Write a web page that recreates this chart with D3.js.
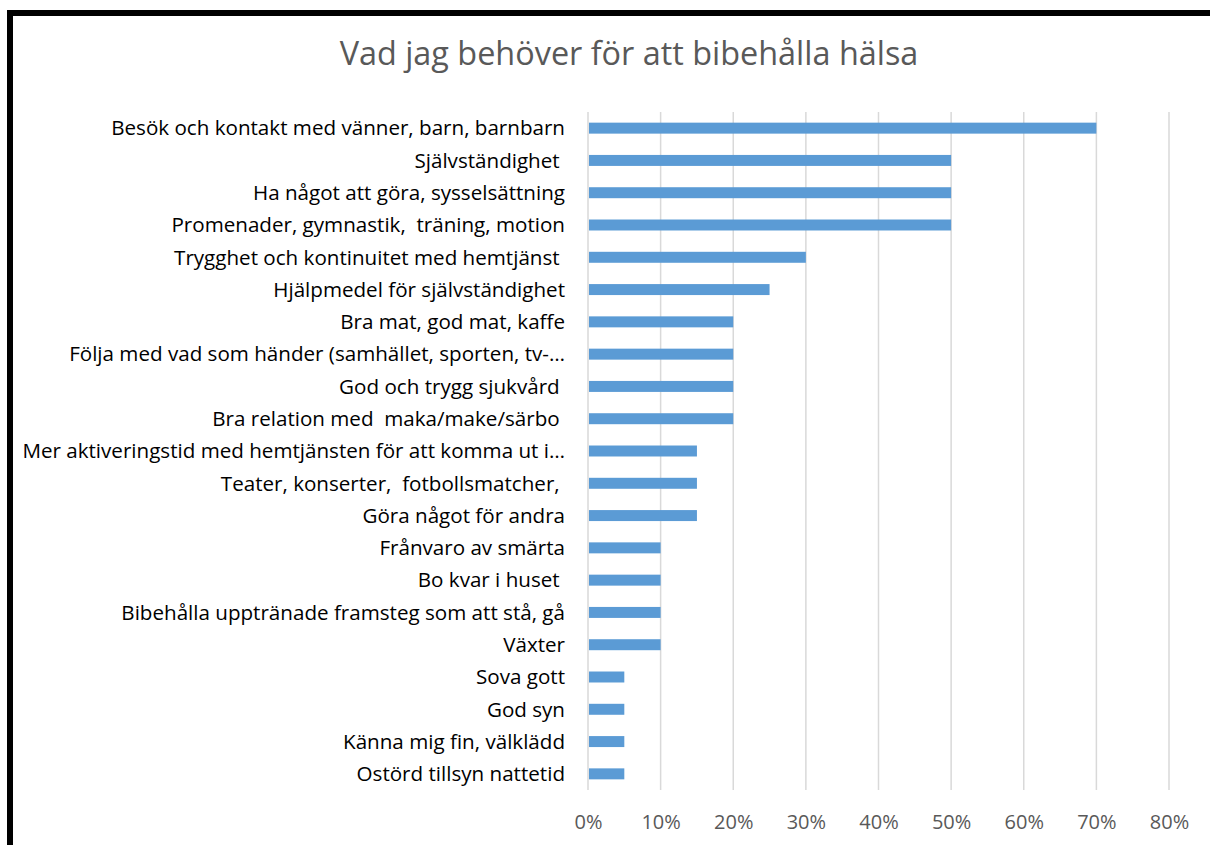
<!DOCTYPE html>
<html><head><meta charset="utf-8">
<script src="https://cdn.jsdelivr.net/npm/d3@7"></script>
<style>
html,body{margin:0;padding:0;background:#fff;}
svg text{white-space:pre;}
</style></head>
<body>
<svg id="c" width="1210" height="845"></svg>
<script>
const title = "Vad jag behöver för att bibehålla hälsa";
const categories = [
  "Besök och kontakt med vänner, barn, barnbarn",
  "Självständighet ",
  "Ha något att göra, sysselsättning",
  "Promenader, gymnastik,  träning, motion",
  "Trygghet och kontinuitet med hemtjänst ",
  "Hjälpmedel för självständighet",
  "Bra mat, god mat, kaffe",
  "Följa med vad som händer (samhället, sporten, tv-…",
  "God och trygg sjukvård ",
  "Bra relation med  maka/make/särbo ",
  "Mer aktiveringstid med hemtjänsten för att komma ut i…",
  "Teater, konserter,  fotbollsmatcher, ",
  "Göra något för andra",
  "Frånvaro av smärta",
  "Bo kvar i huset ",
  "Bibehålla uppträn" + "ade framsteg som att stå, gå",
  "Växter",
  "Sova gott",
  "God syn",
  "Känna mig fin, välklädd",
  "Ostörd tillsyn nattetid"
];
const values = [0.70,0.50,0.50,0.50,0.30,0.25,0.20,0.20,0.20,0.20,0.15,0.15,0.15,0.10,0.10,0.10,0.10,0.05,0.05,0.05,0.05];
const tickValues = [0,0.1,0.2,0.3,0.4,0.5,0.6,0.7,0.8];

const svg = d3.select("#c");
const font = "Open Sans, Noto Sans, sans-serif";

// outer border
svg.append("rect").attr("x",10).attr("y",13).attr("width",1240).attr("height",900)
  .attr("fill","none").attr("stroke","#000").attr("stroke-width",6);

svg.append("text").attr("x",629).attr("y",65).attr("text-anchor","middle")
  .attr("font-family",font).attr("font-size",32.4).attr("fill","#595959").text(title);

const x = d3.scaleLinear().domain([0,0.8]).range([588,1169]);
const y = d3.scaleBand().domain(categories).range([112,790]).paddingInner(0.66).paddingOuter(0.33);

// gridlines
svg.append("g").selectAll("line").data(tickValues).join("line")
  .attr("x1",d=>x(d)).attr("x2",d=>x(d)).attr("y1",112).attr("y2",790)
  .attr("stroke","#D9D9D9").attr("stroke-width",1.5);

// bars
svg.append("g").selectAll("rect").data(values).join("rect")
  .attr("x",x(0)+1).attr("y",(d,i)=>y(categories[i]))
  .attr("width",d=>x(d)-x(0)-1).attr("height",y.bandwidth())
  .attr("fill","#5B9BD5");

// category axis
const ya = svg.append("g").attr("transform","translate(588,0)")
  .call(d3.axisLeft(y).tickSize(0).tickPadding(23));
ya.select(".domain").remove();
ya.selectAll("text").attr("font-family",font).attr("font-size",20.6).attr("fill","#000").attr("dy","0.35em");

// value axis
const xa = svg.append("g").attr("transform","translate(0,790)")
  .call(d3.axisBottom(x).tickValues(tickValues).tickFormat(d3.format(".0%")).tickSize(0).tickPadding(0));
xa.select(".domain").remove();
xa.selectAll("text").attr("font-family",font).attr("font-size",20).attr("fill","#595959").attr("dy",null).attr("y",39);
</script>
</body></html>
